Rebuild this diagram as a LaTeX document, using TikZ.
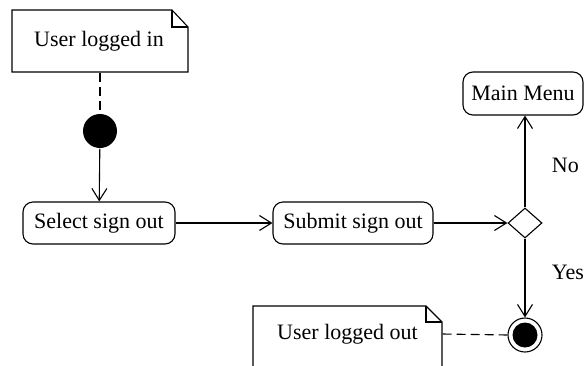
\documentclass[tikz,border=0pt]{standalone}
\usepackage{fontspec}
\setmainfont{Liberation Serif}
\usetikzlibrary{arrows.meta,shapes.geometric}
\begin{document}
\begin{tikzpicture}[x=1pt,y=-1pt,line width=1.1pt,
  txt/.style={font=\fontsize{22}{26}\selectfont},
  act/.style={txt,draw,rounded corners=10pt,minimum height=42pt,inner sep=0pt},
  notebox/.style={txt,inner sep=0pt},
  arr/.style={-{Straight Barb[length=12pt,width=15pt,line width=1.1pt]}},
  dashline/.style={dash pattern=on 9pt off 5pt}]
\useasboundingbox (0,0) rectangle (584,365);
% note: user logged in
\draw (12,10) -- (172,10) -- (188,27) -- (188,72) -- (12,72) -- cycle;
\draw (172,10) -- (172,27) -- (188,27);
\node[notebox,minimum width=176pt,minimum height=62pt] (n1) at (99,41) {User logged in};
% initial node
\node[circle,fill=black,minimum size=34pt,inner sep=0pt] (init) at (100,131) {};
\draw[dashline] (n1.south -| init) -- (init.north);
% actions
\node[act,minimum width=152pt] (sel) at (99,223) {Select sign out};
\node[act,minimum width=160pt] (sub) at (353,223) {Submit sign out};
\node[draw,diamond,minimum width=34pt,minimum height=30pt,inner sep=0pt,aspect=1.1] (dec) at (525,223) {};
\node[act,minimum width=120pt,minimum height=43pt] (menu) at (523,93.5) {Main Menu};
% final node
\node[circle,draw,minimum size=34pt,inner sep=0pt] (fin) at (525,335) {};
\fill (fin) circle (12.5pt);
% note: user logged out
\draw (253,366) -- (253,306) -- (426,306) -- (442,322) -- (442,366);
\draw (426,306) -- (426,322) -- (442,322);
\node[notebox,minimum width=189pt,minimum height=56pt] (n2) at (347.5,334) {User logged out};
\draw[dashline] (n2.east) -- (fin.west);
% connectors
\draw[arr] (init) -- (sel);
\draw[arr] (sel) -- (sub);
\draw[arr] (sub) -- (dec.west);
\draw[arr] (dec.north) -- (dec.north |- menu.south);
\draw[arr] (dec.south) -- (fin.north);
\node[txt,anchor=west] (no) at (548,165) {No};
\node[txt,anchor=west] (yes) at (548,272) {Yes};
\end{tikzpicture}
\end{document}
